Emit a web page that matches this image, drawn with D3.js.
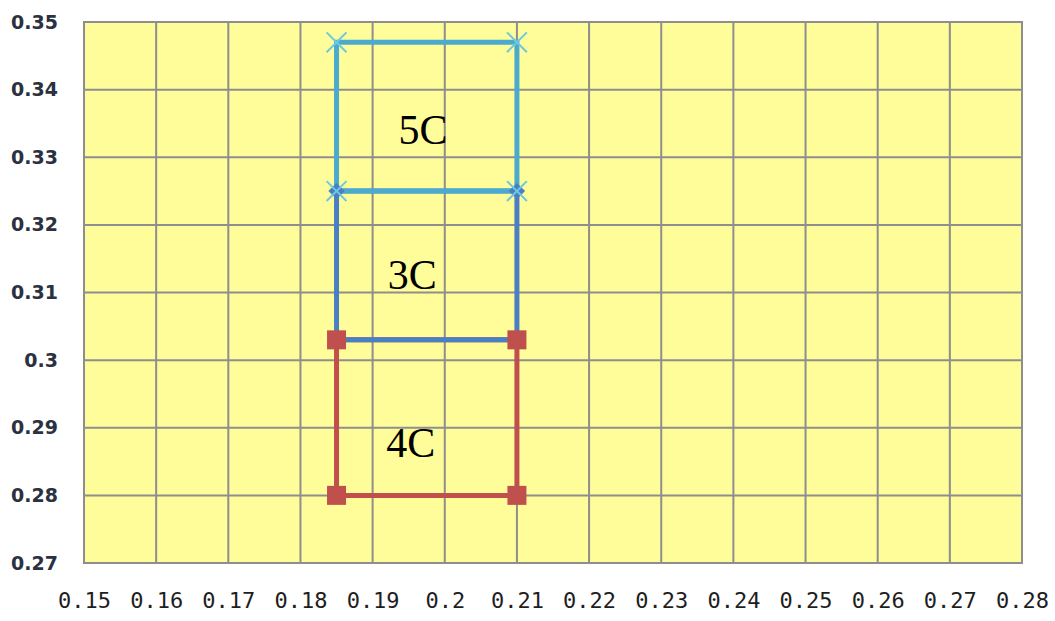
<!DOCTYPE html>
<html>
<head>
<meta charset="utf-8">
<script src="https://cdn.jsdelivr.net/npm/d3@7"></script>
<style>
  body { margin: 0; background: #ffffff; }
</style>
</head>
<body>
<script>
// data
var xTicks = [0.15, 0.16, 0.17, 0.18, 0.19, 0.2, 0.21, 0.22, 0.23, 0.24, 0.25, 0.26, 0.27, 0.28];
var yTicks = [0.27, 0.28, 0.29, 0.3, 0.31, 0.32, 0.33, 0.34, 0.35];

// corners walked round each box (closed)
var cornerX = [0.185, 0.21, 0.21, 0.185, 0.185];
var series4C = [0.28, 0.28, 0.303, 0.303, 0.28];
var series3C = [0.303, 0.303, 0.325, 0.325, 0.303];
var series5C = [0.325, 0.325, 0.347, 0.347, 0.325];

var labelNames = ["4C", "3C", "5C"];
var labelX = [0.1953, 0.1955, 0.197];
var labelY = [0.2879, 0.3127, 0.3342];

var width = 1055;
var height = 621;
var plotLeft = 84, plotRight = 1022, plotTop = 22, plotBottom = 563;

var svg = d3.select("body").append("svg")
            .attr("width", width)
            .attr("height", height);

var xScale = d3.scaleLinear().domain([0.15, 0.28]).range([plotLeft, plotRight]);
var yScale = d3.scaleLinear().domain([0.27, 0.35]).range([plotBottom, plotTop]);

// plot area
svg.append("rect")
  .attr("x", plotLeft).attr("y", plotTop)
  .attr("width", plotRight - plotLeft).attr("height", plotBottom - plotTop)
  .attr("fill", "#fffc9a");

// grid lines
svg.append("g").selectAll("line").data(xTicks).enter().append("line")
  .attr("x1", function(d) { return xScale(d); })
  .attr("x2", function(d) { return xScale(d); })
  .attr("y1", plotTop - 1).attr("y2", plotBottom + 1)
  .attr("stroke", "#8e8e8e").attr("stroke-width", 2);
svg.append("g").selectAll("line").data(yTicks).enter().append("line")
  .attr("y1", function(d) { return yScale(d); })
  .attr("y2", function(d) { return yScale(d); })
  .attr("x1", plotLeft - 1).attr("x2", plotRight + 1)
  .attr("stroke", "#8e8e8e").attr("stroke-width", 2);

// axes (tick labels only)
var yAxis = d3.axisLeft(yScale).tickValues(yTicks).tickSize(0).tickPadding(0)
  .tickFormat(function(d) { return String(+d.toFixed(2)); });
var gy = svg.append("g").attr("transform", "translate(58,0)").call(yAxis);
gy.select(".domain").remove();
gy.selectAll("text")
  .attr("fill", "#2b3140")
  .style("font-family", "'DejaVu Sans', sans-serif")
  .style("font-size", "19px")
  .style("font-weight", "bold");

var xAxis = d3.axisBottom(xScale).tickValues(xTicks).tickSize(0).tickPadding(0)
  .tickFormat(function(d) { return String(+d.toFixed(2)); });
var gx = svg.append("g").attr("transform", "translate(0,592)").call(xAxis);
gx.select(".domain").remove();
gx.selectAll("text")
  .attr("fill", "#1e1e1e")
  .style("font-family", "'DejaVu Sans Mono', monospace")
  .style("font-size", "22px");

// series
var seriesList = [
  { name: "4C", ys: series4C, color: "#c0504d" },
  { name: "3C", ys: series3C, color: "#4a7fc4" },
  { name: "5C", ys: series5C, color: "#4aabcf" }
];

var line = d3.line()
  .x(function(d) { return xScale(d[0]); })
  .y(function(d) { return yScale(d[1]); });

seriesList.forEach(function(s) {
  var pts = cornerX.map(function(x, i) { return [x, s.ys[i]]; });
  svg.append("path")
    .attr("d", line(pts))
    .attr("fill", "none")
    .attr("stroke", s.color)
    .attr("stroke-width", 5)
    .attr("stroke-linejoin", "miter");
});

function cornerPoints(ys) {
  return cornerX.slice(0, 4).map(function(x, i) { return [x, ys[i]]; });
}

// blue diamonds
svg.append("g").selectAll("path").data(cornerPoints(series3C)).enter().append("path")
  .attr("d", d3.symbol().type(d3.symbolDiamond2).size(170))
  .attr("transform", function(d) { return "translate(" + xScale(d[0]) + "," + yScale(d[1]) + ")"; })
  .attr("fill", "#4a7fc4");

// red squares
svg.append("g").selectAll("rect").data(cornerPoints(series4C)).enter().append("rect")
  .attr("x", function(d) { return xScale(d[0]) - 9.5; })
  .attr("y", function(d) { return yScale(d[1]) - 9.5; })
  .attr("width", 19).attr("height", 19)
  .attr("fill", "#c0504d");

// cyan crosses
svg.append("g").selectAll("path").data(cornerPoints(series5C)).enter().append("path")
  .attr("d", d3.symbol().type(d3.symbolX).size(260))
  .attr("transform", function(d) { return "translate(" + xScale(d[0]) + "," + yScale(d[1]) + ")"; })
  .attr("fill", "none")
  .attr("stroke", "#6cc9e0")
  .attr("stroke-width", 2);

// box labels
svg.append("g").selectAll("text").data(labelNames).enter().append("text")
  .attr("x", function(d, i) { return xScale(labelX[i]); })
  .attr("y", function(d, i) { return yScale(labelY[i]); })
  .attr("text-anchor", "middle")
  .attr("dy", "0.35em")
  .style("font-family", "'Liberation Serif', serif")
  .style("font-size", "42px")
  .attr("fill", "#000000")
  .text(function(d) { return d; });
</script>
</body>
</html>
